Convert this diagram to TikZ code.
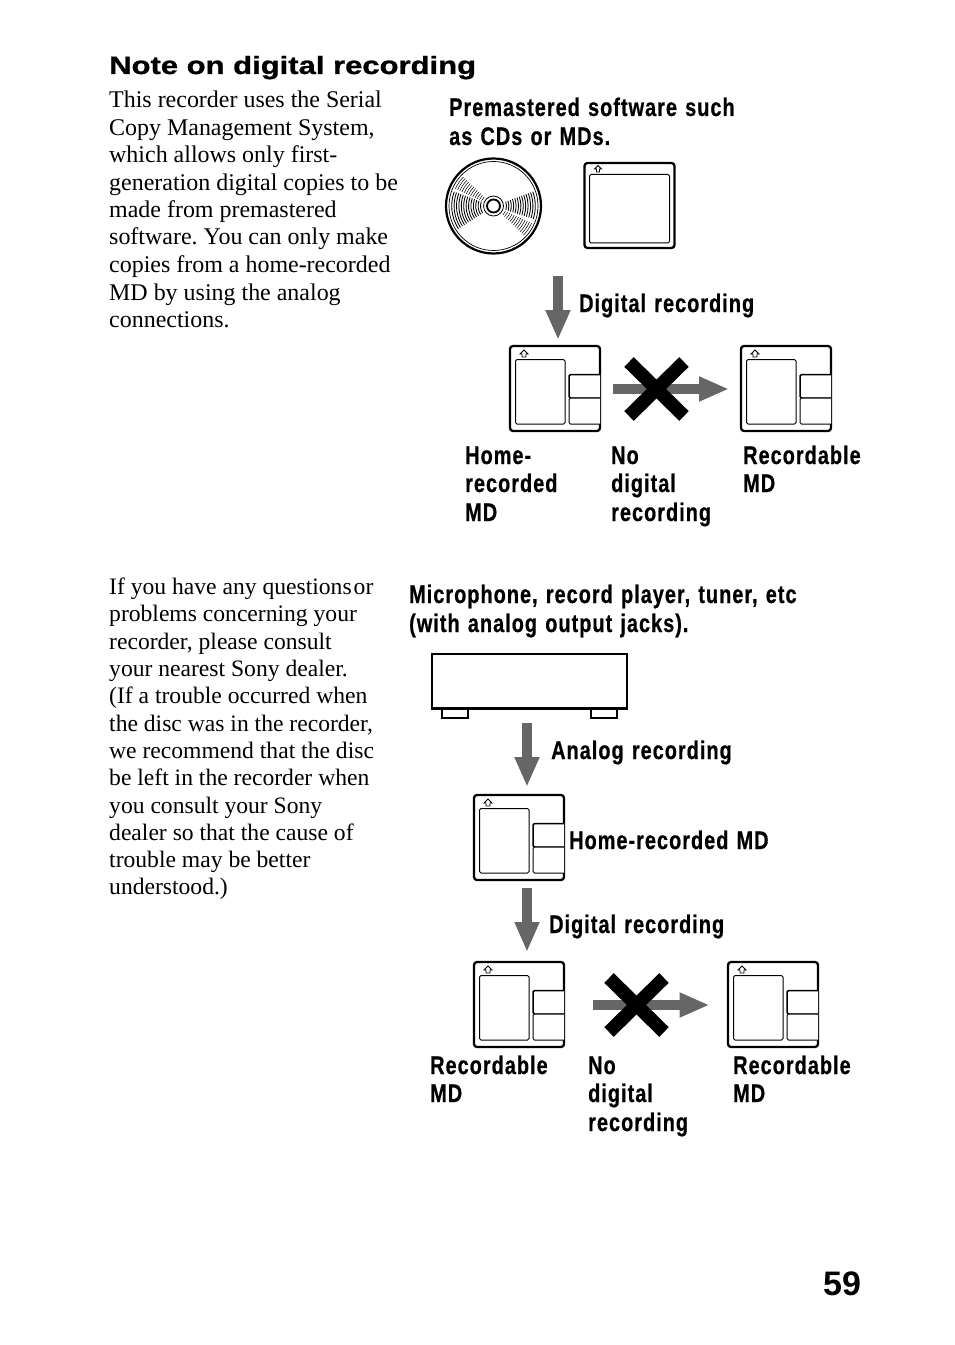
\documentclass[tikz,border=0pt]{standalone}
\usepackage{fontspec}
\usetikzlibrary{arrows.meta}
\setmainfont{Liberation Serif}
\newfontfamily\labfont[FakeStretch=0.78,LetterSpace=4,FakeBold=0.6,WordSpace=1.25]{Liberation Sans Bold}
\newfontfamily\headfont[FakeStretch=1.24,FakeBold=1]{Liberation Sans Bold}
\definecolor{arrowgray}{HTML}{666666}
\tikzset{
 x=1bp,y=-1bp,
 body/.style={anchor=base west,inner sep=0pt,font=\frenchspacing\fontsize{23.95bp}{27bp}\selectfont},
 bodyb/.style={anchor=base west,inner sep=0pt,font=\frenchspacing\fontsize{23.6bp}{27bp}\selectfont},
 lab/.style={anchor=base west,inner sep=0pt,font=\labfont\fontsize{25.5bp}{28bp}\selectfont},
 card/.style={draw=black,line width=1bp,rounded corners=1.5bp,fill=white},
 shell/.style={draw=black,line width=2.3bp,rounded corners=3bp,fill=white},
 flow/.style={draw=arrowgray,line width=10bp,-{Triangle[length=30bp,width=23bp]},shorten >=-2bp},
 cross/.style={draw=black,line width=13.5bp},
 pics/md/.style={code={
  \draw[shell] (0,0) rectangle (90,85);
  \draw[card] (5.5,13.5) rectangle (55,78);
  \draw[card,line width=1.5bp] (90,28.5) -- (59,28.5) -- (59,52) -- (90,52);
  \draw[card] (90,52) -- (59,52) -- (59,78) -- (90,78);
  \draw[line width=.8bp,fill=white] (14,4) -- (18,8) -- (16,8) -- (16,11) -- (12,11) -- (12,8) -- (10,8) -- cycle;
 }},
 pics/mdplain/.style={code={
  \draw[shell] (0,0) rectangle (90,85);
  \draw[card] (5,11.5) rectangle (85,80);
  \draw[line width=.8bp,fill=white] (13.5,2.5) -- (17,6) -- (15,6) -- (15,9) -- (12,9) -- (12,6) -- (10,6) -- cycle;
 }},
}
\begin{document}
\begin{tikzpicture}
\useasboundingbox (0,0) rectangle (954,1345);
\fill[white] (0,0) rectangle (954,1345);
\node[anchor=base west,inner sep=0pt,font=\headfont\fontsize{25bp}{28bp}\selectfont] (head) at (109,74) {Note on digital recording};
\node[body] (a1) at (109,108) {This recorder uses the Serial};
\node[body] (a2) at (109,136) {Copy Management System,};
\node[body] (a3) at (109,163) {which allows only first-};
\node[body] (a4) at (109,191) {generation digital copies to be};
\node[body] (a5) at (109,218) {made from premastered};
\node[body] (a6) at (109,245) {software. You can only make};
\node[body] (a7) at (109,272) {copies from a home-recorded};
\node[body] (a8) at (109,300) {MD by using the analog};
\node[body] (a9) at (109,327) {connections.};
\node[bodyb] (b1) at (109,594) {If you have any questions\hspace{2bp}or};
\node[bodyb] (b2) at (109,621) {problems concerning your};
\node[bodyb] (b3) at (109,649) {recorder, please consult};
\node[bodyb] (b4) at (109,676) {your nearest Sony dealer.};
\node[bodyb] (b5) at (109,703) {(If a trouble occurred when};
\node[bodyb] (b6) at (109,731) {the disc was in the recorder,};
\node[bodyb] (b7) at (109,758) {we recommend that the disc};
\node[bodyb] (b8) at (109,785) {be left in the recorder when};
\node[bodyb] (b9) at (109,813) {you consult your Sony};
\node[bodyb] (b10) at (109,840) {dealer so that the cause of};
\node[bodyb] (b11) at (109,867) {trouble may be better};
\node[bodyb] (b12) at (109,894) {understood.)};
% labels
\node[lab] (l1) at (449,116) {Premastered software such};
\node[lab] (l2) at (449,145) {as CDs or MDs.};
\node[lab] (l3) at (579,312) {Digital recording};
\node[lab] (l4) at (465,464) {Home-};
\node[lab] (l5) at (465,492) {recorded};
\node[lab] (l6) at (465,521) {MD};
\node[lab] (l7) at (611,464) {No};
\node[lab] (l8) at (611,492) {digital};
\node[lab] (l9) at (611,521) {recording};
\node[lab] (l10) at (743,464) {Recordable};
\node[lab] (l11) at (743,492) {MD};
\node[lab] (m1) at (409,603) {Microphone, record player, tuner, etc};
\node[lab] (m2) at (409,632) {(with analog output jacks).};
\node[lab] (m3) at (551,759) {Analog recording};
\node[lab] (m4) at (569,849) {Home-recorded MD};
\node[lab] (m5) at (549,933) {Digital recording};
\node[lab] (m6) at (430,1074) {Recordable};
\node[lab] (m7) at (430,1102) {MD};
\node[lab] (m8) at (588,1074) {No};
\node[lab] (m9) at (588,1102) {digital};
\node[lab] (m10) at (588,1131) {recording};
\node[lab] (m11) at (733,1074) {Recordable};
\node[lab] (m12) at (733,1102) {MD};
\node[anchor=base west,inner sep=0pt,font=\fontspec{Liberation Sans Bold}\fontsize{34bp}{36bp}\selectfont] (pg) at (823,1295) {59};
% CD
\coordinate (cd) at (493.5,206);
\draw[line width=2.2bp] (cd) circle (47.5);
\draw[line width=.7bp] (cd) circle (44.5);
\draw[line width=1.8bp] (cd) circle (6.5);
\draw[line width=.8bp] (cd) circle (10);
\foreach \r in {13,15.4,...,42}{
 \foreach \a/\b in {-20/18,147/200}{
  \draw[line width=.85bp] ([shift={(\a:\r)}]cd) arc[start angle=\a,end angle=\b,radius=\r];
 }
 \foreach \a/\b in {24/44,204/224}{
  \draw[line width=.5bp] ([shift={(\a:\r)}]cd) arc[start angle=\a,end angle=\b,radius=\r];
 }
}
% cards row 1
\pic at (584.5,163) {mdplain};
\pic at (510,346) {md};
\pic at (741,346) {md};
% row 2 device
\draw[line width=2.2bp,fill=white] (442,708) rectangle (468,718);
\draw[line width=2.2bp,fill=white] (591,708) rectangle (617,718);
\draw[line width=2.2bp,fill=white] (432,654) rectangle (627,708.5);
\pic at (474,795) {md};
\pic at (474,962) {md};
\pic at (728,962) {md};
% flows
\coordinate (f1a) at (558,276); \coordinate (f1b) at (558,338);
\coordinate (f2a) at (612.5,389); \coordinate (f2b) at (727,389);
\coordinate (f3a) at (527,723); \coordinate (f3b) at (527,785);
\coordinate (f4a) at (527,888); \coordinate (f4b) at (527,950);
\coordinate (f5a) at (593,1005); \coordinate (f5b) at (707.5,1005);
\draw[flow] (f1a) -- (f1b);
\draw[flow] (f2a) -- (f2b);
\draw[flow] (f3a) -- (f3b);
\draw[flow] (f4a) -- (f4b);
\draw[flow] (f5a) -- (f5b);
\draw[cross] (629,362) -- (684,416) (684,362) -- (629,416);
\draw[cross] (609,978) -- (664,1032) (664,978) -- (609,1032);
\end{tikzpicture}
\end{document}
